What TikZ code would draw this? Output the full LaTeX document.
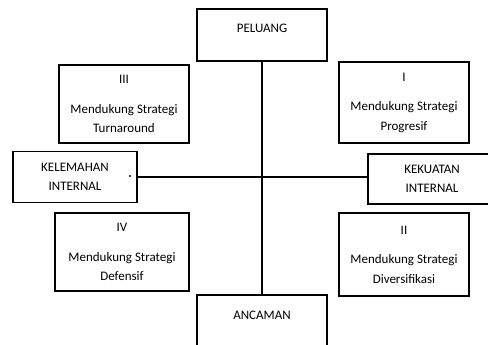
\documentclass[tikz,border=0pt]{standalone}
\usepackage{fontspec}
\setmainfont{Carlito}
\begin{document}
\begin{tikzpicture}[x=1pt,y=-1pt,
  box/.style={draw, line width=1.6pt, rectangle, inner sep=0pt},
  lbl/.style={font=\fontsize{13}{19.5}\selectfont, align=center, inner sep=0pt}]
\useasboundingbox (0,0) rectangle (488,345);
\clip (0,0) rectangle (488,345);
% boxes
\node[box, minimum width=130pt, minimum height=52pt] (peluang) at (262,35) {};
\node[lbl] at (262,28) {PELUANG};
\node[box, minimum width=130pt, minimum height=52pt] (ancaman) at (262,321) {};
\node[lbl] at (262,315) {ANCAMAN};
\node[box, lbl, minimum width=130pt, minimum height=78pt] (q3) at (124,104) {III\\[10pt]Mendukung Strategi\\Turnaround};
\node[box, lbl, minimum width=130pt, minimum height=81pt] (q1) at (404,102.5) {I\\[10pt]Mendukung Strategi\\Progresif};
\node[box, lbl, minimum width=134pt, minimum height=78pt] (q4) at (122,252) {IV\\[10pt]Mendukung Strategi\\Defensif};
\node[box, lbl, minimum width=130pt, minimum height=83pt] (q2) at (404,254.5) {II\\[10pt]Mendukung Strategi\\Diversifikasi};
\node[box, lbl, minimum width=124pt, minimum height=51pt] (kelemahan) at (75,177) {KELEMAHAN\\INTERNAL};
\node[box, lbl, minimum width=128pt, minimum height=50pt] (kekuatan) at (432,179) {KEKUATAN\\INTERNAL};
% axes
\draw[line width=1.6pt] (peluang.south) -- (ancaman.north);
\draw[line width=1.6pt] (kelemahan.east) -- (kelemahan.east -| kekuatan.west);
\fill (130,176) circle (1.1pt);
\end{tikzpicture}
\end{document}
